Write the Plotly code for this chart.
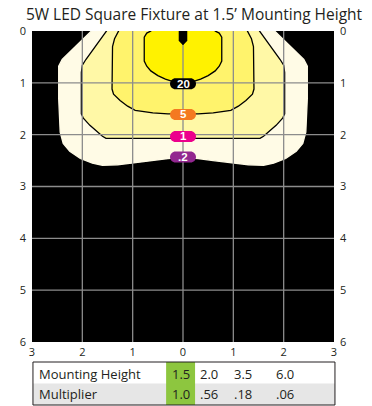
import plotly.graph_objects as go

# ---------------- data ----------------
title_text = "5W LED Square Fixture at 1.5\u2019 Mounting Height"

# right half of each iso-footcandle contour (x = feet from fixture, y = feet down)
c02_x = [1.82, 2.40, 2.47, 2.47, 2.44, 2.38, 2.25, 2.04, 1.80, 1.60, 1.30, 1.02, 0.60, 0.30, 0.0]
c02_y = [0.00, 0.55, 0.68, 1.30, 1.95, 2.17, 2.32, 2.46, 2.55, 2.59, 2.58, 2.55, 2.50, 2.46, 2.44]

c1_x = [1.52, 1.93, 2.00, 2.02, 2.02, 1.98, 1.85, 1.60, 1.53, 1.00, 0.50, 0.0]
c1_y = [0.00, 0.55, 0.66, 0.80, 1.60, 1.68, 1.82, 2.03, 2.07, 2.07, 2.07, 2.06]

c5_x = [1.28, 1.36, 1.40, 1.41, 1.38, 1.25, 1.10, 0.95, 0.60, 0.30, 0.0]
c5_y = [0.00, 0.15, 0.30, 1.12, 1.22, 1.34, 1.45, 1.53, 1.58, 1.60, 1.60]

c20_x = [0.64, 0.72, 0.77, 0.77, 0.72, 0.64, 0.50, 0.35, 0.18, 0.0]
c20_y = [0.00, 0.04, 0.12, 0.58, 0.68, 0.77, 0.86, 0.93, 0.98, 1.00]

fixture_x = [0.08, 0.08, 0.0]
fixture_y = [0.00, 0.19, 0.27]

contour_levels = [".2", "1", "5", "20"]
label_y = [2.43, 2.035, 1.61, 1.02]

x_ticks = [-3, -2, -1, 0, 1, 2, 3]
x_ticktext = ["3", "2", "1", "0", "1", "2", "3"]
y_ticks = [0, 1, 2, 3, 4, 5, 6]

table_rows = ["Mounting Height", "Multiplier"]
mount_heights = ["1.5", "2.0", "3.5", "6.0"]
multipliers = ["1.0", ".56", ".18", ".06"]

# ---------------- style ----------------
fill_colors = ["#fffbe6", "#fff8a6", "#fff36c", "#fff200"]
line_colors = ["#fffbe6", "#000000", "#000000", "#000000"]
pill_colors = ["#92278f", "#ec008c", "#f47920", "#000000"]
grid_color = "#8c8c8c"
text_color = "#231f20"

# page body has an 8px margin: figure is sized to fit the window after it
OFF = 8
WIN_W, WIN_H = 372, 406
W, H = WIN_W - OFF, WIN_H - OFF
# plot-area edges in window pixels
L, R, T, B = 21, 334, 31, 342


def px_x(px):
    return (px - L) / (R - L)


def px_y(py):
    return (B - py) / (B - T)


def closed(hx, hy):
    # mirror right half to build a full closed outline; close above the plot top
    xs = [-v for v in hx] + [v for v in reversed(hx)]
    ys = list(hy) + list(reversed(hy))
    xs = [xs[0]] + xs + [xs[-1], xs[0]]
    ys = [-0.3] + ys + [-0.3, -0.3]
    return xs, ys


fig = go.Figure()

for (hx, hy), fc, lc in zip([(c02_x, c02_y), (c1_x, c1_y), (c5_x, c5_y), (c20_x, c20_y)],
                            fill_colors, line_colors):
    xs, ys = closed(hx, hy)
    fig.add_trace(go.Scatter(x=xs, y=ys, mode="lines", fill="toself", fillcolor=fc,
                             line=dict(color=lc, width=1.3), hoverinfo="skip",
                             showlegend=False))

# grid lines drawn above fills
gx, gy = [], []
for v in x_ticks[1:-1]:
    gx += [v, v, None]
    gy += [0, 6, None]
for v in y_ticks[1:-1]:
    gx += [-3, 3, None]
    gy += [v, v, None]
fig.add_trace(go.Scatter(x=gx, y=gy, mode="lines", line=dict(color=grid_color, width=1.3),
                         hoverinfo="skip", showlegend=False))

# fixture
fx, fy = closed(fixture_x, fixture_y)
fig.add_trace(go.Scatter(x=fx, y=fy, mode="lines", fill="toself", fillcolor="#000000",
                         line=dict(color="#000000", width=0.5), hoverinfo="skip",
                         showlegend=False))

# dummy trace for right axis
fig.add_trace(go.Scatter(x=[0], y=[0], yaxis="y2", mode="markers",
                         marker=dict(opacity=0), hoverinfo="skip", showlegend=False))

shapes = []
annotations = []

pill = ("M -7.5,-5.5 L 7.5,-5.5 C 10.5,-5.5 13,-3 13,0 C 13,3 10.5,5.5 7.5,5.5 "
        "L -7.5,5.5 C -10.5,5.5 -13,3 -13,0 C -13,-3 -10.5,-5.5 -7.5,-5.5 Z")
for lab, ly, pc in zip(contour_levels, label_y, pill_colors):
    shapes.append(dict(type="path", xref="x", yref="y", xsizemode="pixel", ysizemode="pixel",
                       xanchor=0, yanchor=ly, path=pill, fillcolor=pc,
                       line=dict(width=0), layer="above"))
    annotations.append(dict(x=0, y=ly, xref="x", yref="y", text="<b>%s</b>" % lab,
                            showarrow=False,
                            font=dict(family="Liberation Sans", size=11.5, color="white"),
                            xanchor="center", yanchor="middle"))

# table
row_split = 383.5
shapes.append(dict(type="rect", xref="paper", yref="paper", x0=px_x(22), x1=px_x(335),
                   y0=px_y(405), y1=px_y(row_split), fillcolor="#e6e6e6", line=dict(width=0),
                   layer="above"))
shapes.append(dict(type="rect", xref="paper", yref="paper", x0=px_x(160), x1=px_x(190),
                   y0=px_y(405), y1=px_y(362), fillcolor="#8dc63f", line=dict(width=0),
                   layer="above"))
shapes.append(dict(type="rect", xref="paper", yref="paper", x0=px_x(22), x1=px_x(335),
                   y0=px_y(405), y1=px_y(362), fillcolor="rgba(0,0,0,0)",
                   line=dict(color="#231f20", width=1), layer="above"))

row_py = [374.3, 393.5]
col_px = [175, 204.5, 240, 283]
tfont = dict(family="Open Sans", size=13, color=text_color)
for r, py in zip(table_rows, row_py):
    annotations.append(dict(x=px_x(26), y=px_y(py), xref="paper", yref="paper", text=r,
                            showarrow=False, xanchor="left", yanchor="middle", font=tfont))
for vals, py in zip([mount_heights, multipliers], row_py):
    for v, cx in zip(vals, col_px):
        annotations.append(dict(x=px_x(cx), y=px_y(py), xref="paper", yref="paper", text=v,
                                showarrow=False, xanchor="center", yanchor="middle",
                                font=tfont))

axfont = dict(family="Open Sans", size=11, color=text_color)
fig.update_layout(
    width=W, height=H,
    margin=dict(l=L - OFF, r=WIN_W - R, t=T - OFF, b=WIN_H - B, pad=0),
    paper_bgcolor="white", plot_bgcolor="black",
    title=dict(text=title_text, x=(194 - OFF) / W, xanchor="center",
               y=1 - (14.5 - OFF) / H, yanchor="middle",
               font=dict(family="Open Sans", size=15.5, color=text_color)),
    xaxis=dict(range=[-3, 3], tickvals=x_ticks, ticktext=x_ticktext, showgrid=False,
               zeroline=False, showline=False, ticks="", tickfont=axfont,
               ticklabelstandoff=2, fixedrange=True),
    yaxis=dict(range=[6, 0], tickvals=y_ticks, showgrid=False, zeroline=False,
               showline=False, ticks="", tickfont=axfont, ticklabelstandoff=5,
               fixedrange=True),
    yaxis2=dict(range=[6, 0], tickvals=y_ticks, overlaying="y", side="right",
                showgrid=False, zeroline=False, showline=False, ticks="", tickfont=axfont,
                ticklabelstandoff=5, fixedrange=True),
    shapes=shapes, annotations=annotations, showlegend=False,
)

fig.write_html("out.html")
